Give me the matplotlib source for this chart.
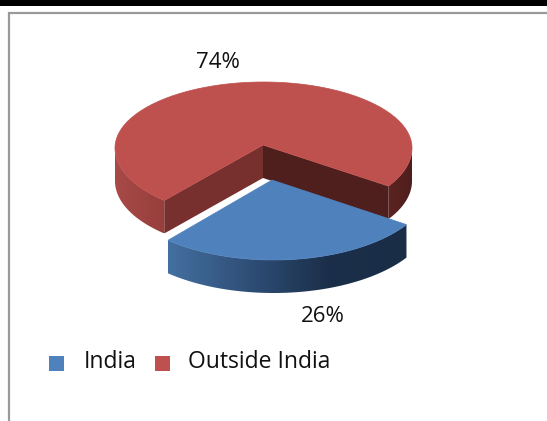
"""
Share of respondents: exploded 3D-style pie drawn on a pixel canvas.
"""

import numpy as np
import matplotlib
matplotlib.use('Agg')
import matplotlib.pyplot as plt
from matplotlib.colors import LinearSegmentedColormap
from matplotlib.patches import Polygon, Rectangle

categories = ['India', 'Outside India']
shares = [26, 74]
share_labels = ['26%', '74%']

W, H = 547, 421
DEPTH = 33
RED_TOP = '#be504d'
BLUE_TOP = '#4f81bd'
TEXT = '#111111'
FONT = 'Open Sans'

# India slice faces the viewer, a little to the right of centre
INDIA_MID = 277.7
# tilted view opens up the near slice slightly
PERSPECTIVE = 1.06


def rim(cx, cy, rx, ry_back, ry_front, a0, a1):
    # the front half of the disc bulges more than the back half
    t = np.radians(np.linspace(a0, a1, 200))
    s = np.sin(t)
    return cx + rx * np.cos(t), cy - np.where(s > 0, ry_back, ry_front) * s


def shade(ax, poly, x0, x1, y0, y1, colors):
    # horizontal gradient clipped to the wall outline
    cmap = LinearSegmentedColormap.from_list('wall', colors)
    grad = np.linspace(0, 1, 256).reshape(1, -1)
    im = ax.imshow(grad, cmap=cmap, extent=[x0, x1, y1, y0], aspect='auto', zorder=poly.get_zorder())
    ax.add_patch(poly)
    poly.set_facecolor('none')
    poly.set_edgecolor('none')
    im.set_clip_path(poly)


fig = plt.figure(figsize=(W / 100, H / 100), dpi=100)
ax = fig.add_axes([0, 0, 1, 1])

span = shares[0] / sum(shares) * 360 * PERSPECTIVE
a0 = INDIA_MID - span / 2
a1 = INDIA_MID + span / 2

# --- Outside India (back slice) ---
red = (263.5, 148, 148.5, 66, 70.5)
apex = (263, 145)
x_out, y_out = rim(*red, a1 - 360, a0)
x_a0, y_a0 = x_out[-1], y_out[-1]
x_a1, y_a1 = x_out[0], y_out[0]

# outer wall, only the part of the rim facing the viewer
for lo, hi, cols in [(180, a0, ['#a84a47', '#963f3d']), (a1, 360, ['#5c2422', '#4e1e1c'])]:
    xs, ys = rim(*red, lo, hi)
    pts = np.r_[np.c_[xs, ys], np.c_[xs[::-1], ys[::-1] + DEPTH]]
    poly = Polygon(pts, closed=True, zorder=1)
    shade(ax, poly, xs.min(), xs.max(), ys.min(), ys.max() + DEPTH, cols)

# cut faces of the missing wedge
ax.add_patch(Polygon([apex, (x_a0, y_a0), (x_a0, y_a0 + DEPTH), (apex[0], apex[1] + DEPTH)],
                     closed=True, fc='#78302f', ec='none', zorder=2))
ax.add_patch(Polygon([apex, (x_a1, y_a1), (x_a1, y_a1 + DEPTH), (apex[0], apex[1] + DEPTH)],
                     closed=True, fc='#4f1f1d', ec='none', zorder=2))
ax.add_patch(Polygon(np.r_[[apex], np.c_[x_out, y_out]], closed=True,
                     fc=RED_TOP, ec=RED_TOP, lw=0.5, zorder=3))

# --- India (pulled out slice) ---
blue = (273.5, 183, 158, 77, 77)
x_in, y_in = rim(*blue, a0, a1)
pts = np.r_[np.c_[x_in, y_in], np.c_[x_in[::-1], y_in[::-1] + DEPTH]]
poly = Polygon(pts, closed=True, zorder=4)
shade(ax, poly, x_in.min(), x_in.max(), y_in.min(), y_in.max() + DEPTH,
      ['#44709f', '#2f4f78', '#1b2f4a', '#1a2d47'])
ax.add_patch(Polygon(np.r_[[(272, 180)], np.c_[x_in, y_in]], closed=True,
                     fc=BLUE_TOP, ec=BLUE_TOP, lw=0.5, zorder=5))

# --- Labels ---
ax.text(218, 62, share_labels[1], fontsize=16, family=FONT, color=TEXT, ha='center', va='center')
ax.text(322.5, 317, share_labels[0], fontsize=16, family=FONT, color=TEXT, ha='center', va='center')

# --- Legend ---
ax.add_patch(Rectangle((49, 356), 15, 15, fc=BLUE_TOP, ec='none'))
ax.add_patch(Rectangle((155, 356), 15, 15, fc=RED_TOP, ec='none'))
ax.text(84, 362, categories[0], fontsize=16.5, family=FONT, color=TEXT, va='center')
ax.text(188, 362, categories[1], fontsize=16.5, family=FONT, color=TEXT, va='center')

# --- Page furniture: black bar and chart frame ---
ax.add_patch(Rectangle((0, 0), W, 6, fc='black', ec='none'))
ax.plot([9, 9, W], [H, 13, 13], color='#9a9a9a', lw=1.6, solid_joinstyle='miter')

ax.set_xlim(0, W)
ax.set_ylim(H, 0)
ax.axis('off')
fig.savefig('out.png', dpi=100)
